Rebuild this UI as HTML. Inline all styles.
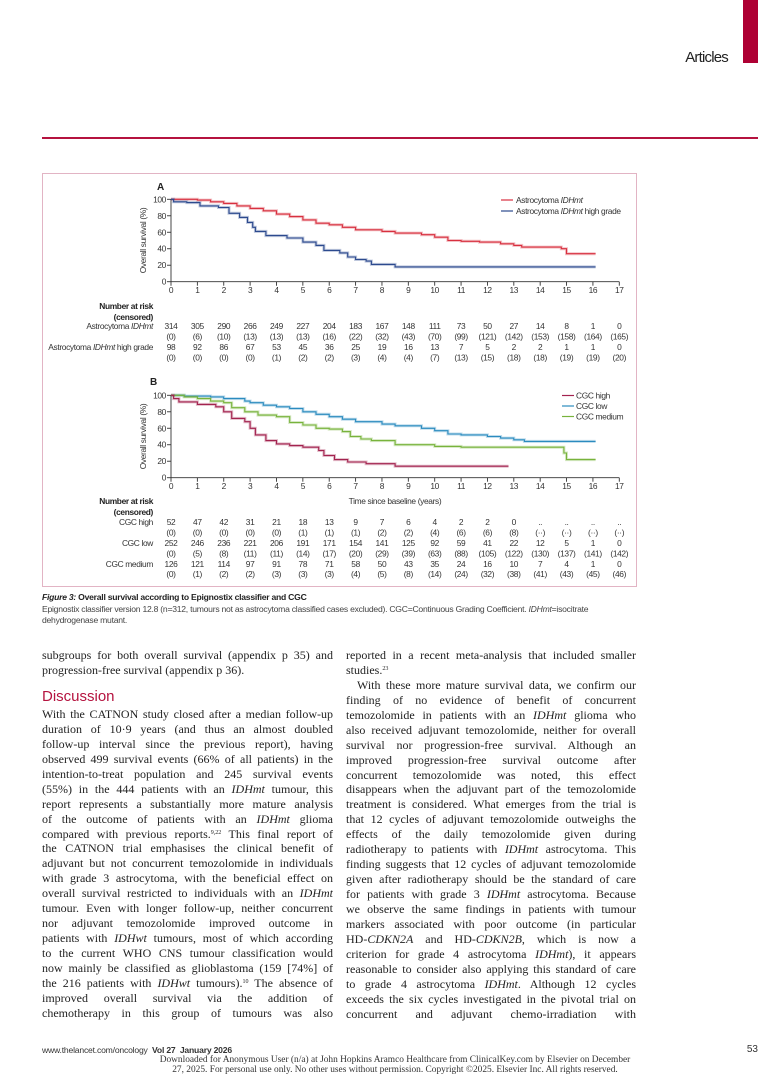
<!DOCTYPE html>
<html><head><meta charset="utf-8">
<style>
html,body{margin:0;padding:0;background:#fff;}
body{width:783px;height:1079px;position:relative;overflow:hidden;font-family:"Liberation Sans",sans-serif;}
.abs{position:absolute;}
.col{position:absolute;width:291px;font-family:"Liberation Serif",serif;font-size:12px;color:#222;}
.col div{height:14.95px;line-height:14.95px;text-align:justify;text-align-last:justify;overflow:hidden;}
.col div.l{text-align-last:left;}
.col div.ind{text-indent:11px;}
i{font-style:italic;}
sup{font-size:6px;line-height:0;vertical-align:4px;}
svg text{font-family:"Liberation Sans",sans-serif;letter-spacing:-0.35px;}
</style></head><body>
<div class="abs" style="left:743px;top:0;width:15px;height:63px;background:#ae0034;"></div>
<div class="abs" style="right:55px;top:49px;font-size:15px;color:#222;letter-spacing:-0.8px;">Articles</div>
<div class="abs" style="left:42px;top:137px;width:716px;height:2px;background:#b5133f;"></div>
<div class="abs" style="left:42px;top:173px;width:593px;height:412px;border:1px solid #e2b4c4;"></div>

<svg class="abs" style="left:0;top:0" width="783" height="1079" id="sv"></svg>

<div class="abs" style="left:42px;top:592px;font-size:8.6px;color:#222;line-height:11.7px;letter-spacing:-0.25px;">
<div><b><i>Figure 3:</i> Overall survival according to Epignostix classifier and CGC</b></div>
<div style="color:#444">Epignostix classifier version 12.8 (n=312, tumours not as astrocytoma classified cases excluded). CGC=Continuous Grading Coefficient. <i>IDHmt</i>=isocitrate</div>
<div style="color:#444">dehydrogenase mutant.</div>
</div>

<div class="col" style="left:42px;top:648px;">
<div>subgroups for both overall survival (appendix p 35) and</div>
<div class="l">progression-free survival (appendix p 36).</div>
</div>
<div class="abs" style="left:42px;top:688px;font-size:15px;color:#b5133f;">Discussion</div>
<div class="col" style="left:42px;top:707px;">
<div>With the CATNON study closed after a median follow-up</div>
<div>duration of 10·9 years (and thus an almost doubled</div>
<div>follow-up interval since the previous report), having</div>
<div>observed 499 survival events (66% of all patients) in the</div>
<div>intention-to-treat population and 245 survival events</div>
<div>(55%) in the 444 patients with an <i>IDHmt</i> tumour, this</div>
<div>report represents a substantially more mature analysis</div>
<div>of the outcome of patients with an <i>IDHmt</i> glioma</div>
<div>compared with previous reports.<sup>9,22</sup> This final report of</div>
<div>the CATNON trial emphasises the clinical benefit of</div>
<div>adjuvant but not concurrent temozolomide in individuals</div>
<div>with grade 3 astrocytoma, with the beneficial effect on</div>
<div>overall survival restricted to individuals with an <i>IDHmt</i></div>
<div>tumour. Even with longer follow-up, neither concurrent</div>
<div>nor adjuvant temozolomide improved outcome in</div>
<div>patients with <i>IDHwt</i> tumours, most of which according</div>
<div>to the current WHO CNS tumour classification would</div>
<div>now mainly be classified as glioblastoma (159 [74%] of</div>
<div>the 216 patients with <i>IDHwt</i> tumours).<sup>10</sup> The absence of</div>
<div>improved overall survival via the addition of</div>
<div>chemotherapy in this group of tumours was also</div>
</div>
<div class="col" style="left:346px;top:648px;width:290px;">
<div>reported in a recent meta-analysis that included smaller</div>
<div class="l">studies.<sup>23</sup></div>
<div class="ind">With these more mature survival data, we confirm our</div>
<div>finding of no evidence of benefit of concurrent</div>
<div>temozolomide in patients with an <i>IDHmt</i> glioma who</div>
<div>also received adjuvant temozolomide, neither for overall</div>
<div>survival nor progression-free survival. Although an</div>
<div>improved progression-free survival outcome after</div>
<div>concurrent temozolomide was noted, this effect</div>
<div>disappears when the adjuvant part of the temozolomide</div>
<div>treatment is considered. What emerges from the trial is</div>
<div>that 12 cycles of adjuvant temozolomide outweighs the</div>
<div>effects of the daily temozolomide given during</div>
<div>radiotherapy to patients with <i>IDHmt</i> astrocytoma. This</div>
<div>finding suggests that 12 cycles of adjuvant temozolomide</div>
<div>given after radiotherapy should be the standard of care</div>
<div>for patients with grade 3 <i>IDHmt</i> astrocytoma. Because</div>
<div>we observe the same findings in patients with tumour</div>
<div>markers associated with poor outcome (in particular</div>
<div>HD-<i>CDKN2A</i> and HD-<i>CDKN2B</i>, which is now a</div>
<div>criterion for grade 4 astrocytoma <i>IDHmt</i>), it appears</div>
<div>reasonable to consider also applying this standard of care</div>
<div>to grade 4 astrocytoma <i>IDHmt</i>. Although 12 cycles</div>
<div>exceeds the six cycles investigated in the pivotal trial on</div>
<div>concurrent and adjuvant chemo-irradiation with</div>
</div>

<div class="abs" style="left:42px;top:1045px;font-size:8.6px;color:#333;letter-spacing:-0.2px;">www.thelancet.com/oncology&nbsp; <b>Vol 27&nbsp; January 2026</b></div>
<div class="abs" style="right:25px;top:1044px;font-size:10px;color:#333;">53</div>
<div class="abs" style="left:0;width:790px;top:1056px;text-align:center;font-family:'Liberation Serif',serif;font-size:9.4px;line-height:9.6px;color:#333;">Downloaded for Anonymous User (n/a) at John Hopkins Aramco Healthcare from ClinicalKey.com by Elsevier on December<br>27, 2025. For personal use only. No other uses without permission. Copyright ©2025. Elsevier Inc. All rights reserved.</div>

<script>
var sv=document.getElementById('sv'),h='';
function X(t){return 171+26.37*t;}
function txt(x,y,s,o){o=o||{};h+='<text x="'+x+'" y="'+y+'" font-size="'+(o.fs||8.4)+'" fill="'+(o.c||'#333')+'" text-anchor="'+(o.a||'middle')+'"'+(o.w?' font-weight="bold"':'')+(o.tr?' transform="'+o.tr+'"':'')+'>'+s+'</text>';}
function axes(y0,lab,lx,ly){
  var Y=function(p){return y0-0.824*p;};
  h+='<path d="M171 '+Y(100)+'V'+y0+'H'+X(17)+'" fill="none" stroke="#333" stroke-width="0.9"/>';
  for(var p=0;p<=100;p+=20){h+='<line x1="167" x2="171" y1="'+Y(p)+'" y2="'+Y(p)+'" stroke="#333" stroke-width="0.9"/>';txt(166,Y(p)+3,p,{a:'end'});}
  for(var t=0;t<=17;t++){h+='<line x1="'+X(t)+'" x2="'+X(t)+'" y1="'+y0+'" y2="'+(y0+4)+'" stroke="#333" stroke-width="0.9"/>';txt(X(t),y0+11.5,t);}
  txt(0,0,'Overall survival (%)',{tr:'translate(146,'+Y(50)+') rotate(-90)'});
  txt(lx,ly,lab,{fs:10,a:'start',c:'#222'});
  return Y;
}
function curve(Y,pts,col){
  var d='M'+X(pts[0][0])+' '+Y(pts[0][1]);
  for(var i=1;i<pts.length;i++){d+='H'+X(pts[i][0]).toFixed(1)+'V'+Y(pts[i][1]).toFixed(1);}
  h+='<path d="'+d+'" fill="none" stroke="'+col+'" stroke-opacity="0.3" stroke-width="3"/>';
  h+='<path d="'+d+'" fill="none" stroke="'+col+'" stroke-width="1.1"/>';
}
var YA=axes(281.7,'<tspan font-weight="bold">A</tspan>',157,190);
curve(YA,[[0,100],[1,99],[1.5,97],[2,95],[2.5,92],[3,89],[3.5,86],[4,82],[4.5,79],[5,75],[5.5,71],[6,69],[6.5,66],[7,63],[8,61],[8.5,59],[9.5,57],[10,54],[10.5,50],[11,49],[11.7,48],[12.5,46],[13,44],[13.3,42],[14.8,40],[15,34],[16.1,34]],'#d8303f');
curve(YA,[[0,100],[0.1,97],[0.6,96],[1.1,92],[1.8,90],[2.2,83],[2.6,78],[2.9,72],[3.1,66],[3.2,61],[3.6,56],[4.4,53],[5,48],[5.5,44],[5.8,38],[6.4,35],[6.7,30],[7,27],[7.4,25],[7.6,21],[8.5,18],[16.1,18]],'#2c4a8e');
h+='<line x1="501" x2="513" y1="200" y2="200" stroke="#d8303f" stroke-width="1.2"/><line x1="501" x2="513" y1="211" y2="211" stroke="#2c4a8e" stroke-width="1.2"/>';
txt(516,203,'Astrocytoma <tspan font-style="italic">IDHmt</tspan>',{a:'start'});
txt(516,214,'Astrocytoma <tspan font-style="italic">IDHmt</tspan> high grade',{a:'start'});
function rows(lbls,data,ys){
  for(var r=0;r<lbls.length;r++){
    txt(153,ys[r*2]+3,lbls[r],{a:'end'});
    for(var t=0;t<=17;t++){txt(X(t),ys[r*2]+3,data[r][0][t]);txt(X(t),ys[r*2+1]+3,'('+data[r][1][t]+')');}
  }
}
txt(153,309,'Number at risk',{a:'end',w:1,c:'#222'});txt(153,320,'(censored)',{a:'end',w:1,c:'#222'});
rows(['Astrocytoma <tspan font-style="italic">IDHmt</tspan>','Astrocytoma <tspan font-style="italic">IDHmt</tspan> high grade'],[
[[314,305,290,266,249,227,204,183,167,148,111,73,50,27,14,8,1,0],[0,6,10,13,13,13,16,22,32,43,70,99,121,142,153,158,164,165]],
[[98,92,86,67,53,45,36,25,19,16,13,7,5,2,2,1,1,0],[0,0,0,0,1,2,2,3,4,4,7,13,15,18,18,19,19,20]]],[326,336.5,347,357.5]);

var YB=axes(477.7,'<tspan font-weight="bold">B</tspan>',150,385);
curve(YB,[[0,100],[0.5,99],[1.5,98],[2,96],[2.8,93],[3,91],[3.5,88],[4,86],[4.5,84],[5,80],[5.5,77],[6,74],[6.5,71],[7,68],[8,65],[8.5,63],[9.5,60],[10,57],[10.5,53],[11,52],[12,50],[12.5,48],[13,46],[13.4,44],[16.1,44]],'#2b8bbf');
curve(YB,[[0,100],[0.5,98],[1,96],[1.5,93],[2,91],[2.3,85],[2.8,80],[3.3,76],[4,74],[4.5,67],[5,64],[5.5,60],[6,59],[6.5,56],[6.8,50],[7.2,47],[7.6,45],[8.5,40],[10,38],[11,37],[14.8,37],[14.9,30],[15,22],[16.1,22]],'#78b33c');
curve(YB,[[0,100],[0.1,96],[0.3,92],[1,89],[1.7,86],[2,80],[2.3,72],[2.8,68],[3,60],[3.2,52],[3.6,45],[4,41],[4.5,39],[5,37],[5.6,33],[5.8,27],[6.2,22],[6.7,19],[7.4,17],[8.5,14],[12.8,14]],'#a3234f');
h+='<line x1="562" x2="574" y1="395.5" y2="395.5" stroke="#a3234f" stroke-width="1.2"/><line x1="562" x2="574" y1="406" y2="406" stroke="#2b8bbf" stroke-width="1.2"/><line x1="562" x2="574" y1="416.5" y2="416.5" stroke="#78b33c" stroke-width="1.2"/>';
txt(576,398.5,'CGC high',{a:'start'});txt(576,409,'CGC low',{a:'start'});txt(576,419.5,'CGC medium',{a:'start'});
txt(395,504,'Time since baseline (years)');
txt(153,504,'Number at risk',{a:'end',w:1,c:'#222'});txt(153,515,'(censored)',{a:'end',w:1,c:'#222'});
var dd='..',dc='··';
rows(['CGC high','CGC low','CGC medium'],[
[[52,47,42,31,21,18,13,9,7,6,4,2,2,0,dd,dd,dd,dd],[0,0,0,0,0,1,1,1,2,2,4,6,6,8,dc,dc,dc,dc]],
[[252,246,236,221,206,191,171,154,141,125,92,59,41,22,12,5,1,0],[0,5,8,11,11,14,17,20,29,39,63,88,105,122,130,137,141,142]],
[[126,121,114,97,91,78,71,58,50,43,35,24,16,10,7,4,1,0],[0,1,2,2,3,3,3,4,5,8,14,24,32,38,41,43,45,46]]],[522,532.5,543,553.5,564,574]);
sv.innerHTML=h;
</script>
</body></html>
